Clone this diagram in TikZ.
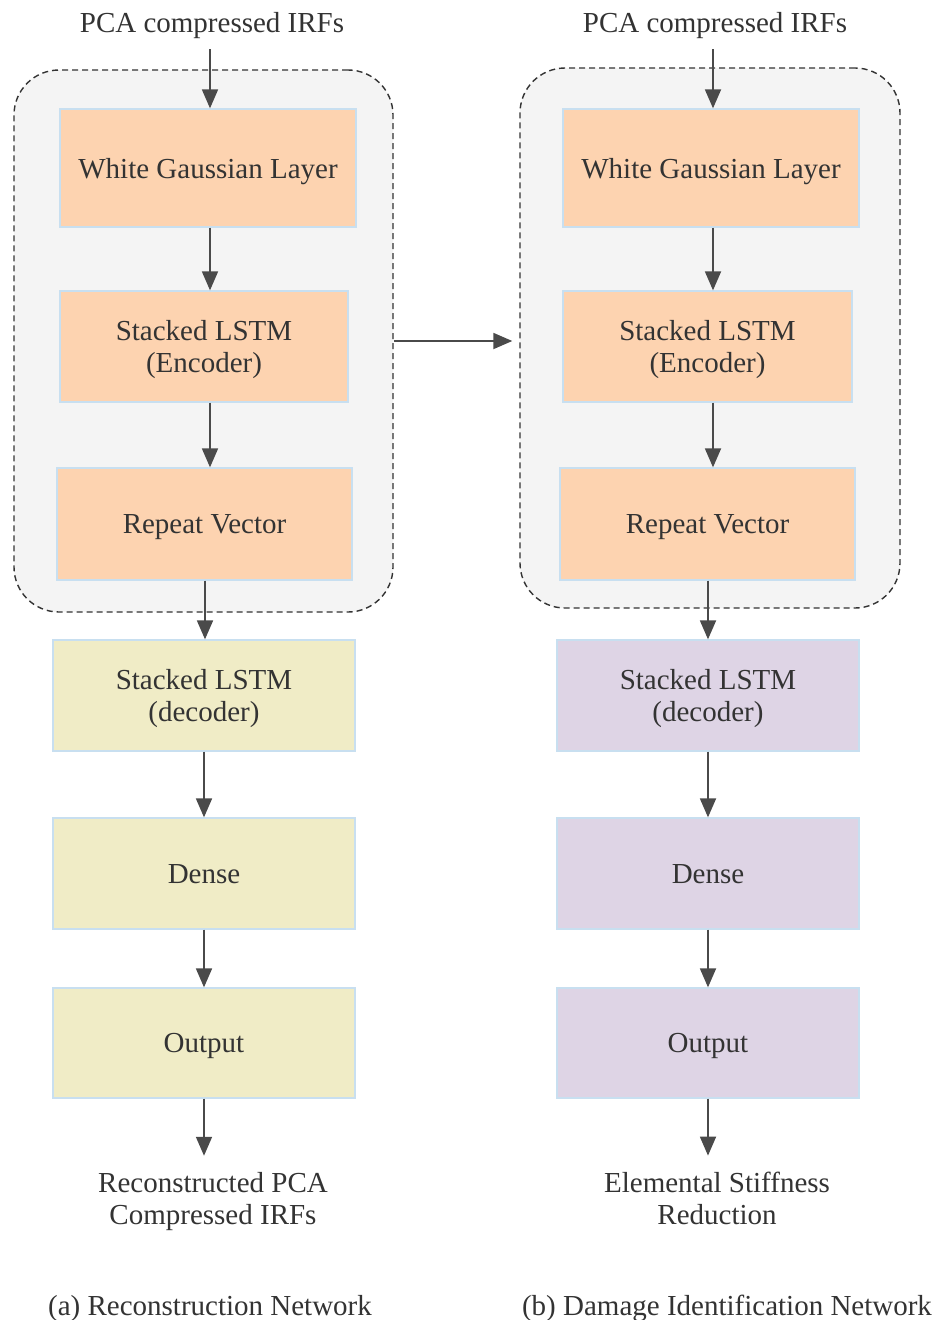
\documentclass[tikz,border=0pt]{standalone}
\usepackage{fontspec}
\setmainfont{Liberation Serif}
\usetikzlibrary{arrows.meta}
\definecolor{peach}{HTML}{FDD3B0}
\definecolor{straw}{HTML}{F0ECC6}
\definecolor{lav}{HTML}{DED4E5}
\definecolor{boxedge}{HTML}{C8DFF0}
\definecolor{cont}{HTML}{F4F4F4}
\definecolor{ink}{HTML}{333333}
\definecolor{arrc}{HTML}{4A4A4A}
\tikzset{
  layer/.style={draw=boxedge, line width=1.3pt, inner sep=0pt, align=center, text=ink,
    text depth=0pt, font=\fontsize{29}{32}\selectfont},
  txt/.style={inner sep=0pt, align=center, text=ink, text depth=0pt,
    font=\fontsize{29}{32}\selectfont},
  container/.style={draw=black!80, fill=cont, dashed, dash pattern=on 6pt off 4pt,
    line width=1.4pt, rounded corners=45pt, inner sep=0pt},
  arr/.style={draw=arrc, line width=1.8pt, -{Triangle[length=19pt,width=16pt]}},
}
\begin{document}
\begin{tikzpicture}[x=1pt,y=-1pt]
\useasboundingbox[fill=white] (0,0) rectangle (933,1320);
% containers
\node[container, minimum width=379pt, minimum height=542pt] (cA) at (203.5,341) {};
\node[container, minimum width=380pt, minimum height=540pt] (cB) at (710,338) {};
% titles
\node[txt] (tA) at (212,22) {PCA compressed IRFs};
\node[txt] (tB) at (715,22) {PCA compressed IRFs};
% left column
\node[layer, fill=peach, minimum width=296pt, minimum height=118pt] (a1) at (208,168) {White Gaussian Layer};
\node[layer, fill=peach, minimum width=288pt, minimum height=111pt] (a2) at (204,346.5) {Stacked LSTM\\(Encoder)};
\node[layer, fill=peach, minimum width=295pt, minimum height=112pt] (a3) at (204.5,524) {Repeat Vector};
\node[layer, fill=straw, minimum width=302pt, minimum height=111pt] (a4) at (204,695.5) {Stacked LSTM\\(decoder)};
\node[layer, fill=straw, minimum width=302pt, minimum height=111pt] (a5) at (204,873.5) {Dense};
\node[layer, fill=straw, minimum width=302pt, minimum height=110pt] (a6) at (204,1043) {Output};
\node[txt] (oA) at (213,1198) {Reconstructed PCA\\Compressed IRFs};
\node[txt] (capA) at (210,1305) {(a) Reconstruction Network};
% right column
\node[layer, fill=peach, minimum width=296pt, minimum height=118pt] (b1) at (711,168) {White Gaussian Layer};
\node[layer, fill=peach, minimum width=289pt, minimum height=111pt] (b2) at (707.5,346.5) {Stacked LSTM\\(Encoder)};
\node[layer, fill=peach, minimum width=295pt, minimum height=112pt] (b3) at (707.5,524) {Repeat Vector};
\node[layer, fill=lav, minimum width=302pt, minimum height=111pt] (b4) at (708,695.5) {Stacked LSTM\\(decoder)};
\node[layer, fill=lav, minimum width=302pt, minimum height=111pt] (b5) at (708,873.5) {Dense};
\node[layer, fill=lav, minimum width=302pt, minimum height=110pt] (b6) at (708,1043) {Output};
\node[txt] (oB) at (717,1198) {Elemental Stiffness\\Reduction};
\node[txt] (capB) at (727,1305) {(b) Damage Identification Network};
% left arrows
\draw[arr, shorten <=17pt] ([xshift=2pt]a1.north |- tA.south) -- ([xshift=2pt]a1.north);
\draw[arr] ([xshift=2pt]a1.south) -- ([xshift=2pt]a1.south |- a2.north);
\draw[arr] ([xshift=6pt]a2.south) -- ([xshift=6pt]a2.south |- a3.north);
\draw[arr] ([xshift=0.5pt]a3.south) -- ([xshift=0.5pt]a3.south |- a4.north);
\draw[arr] (a4.south) -- (a5.north);
\draw[arr] (a5.south) -- (a6.north);
\draw[arr, shorten >=16pt] (a6.south) -- (a6.south |- oA.north);
% right arrows
\draw[arr, shorten <=17pt] ([xshift=2pt]b1.north |- tB.south) -- ([xshift=2pt]b1.north);
\draw[arr] ([xshift=2pt]b1.south) -- ([xshift=2pt]b1.south |- b2.north);
\draw[arr] ([xshift=5.5pt]b2.south) -- ([xshift=5.5pt]b2.south |- b3.north);
\draw[arr] ([xshift=0.5pt]b3.south) -- ([xshift=0.5pt]b3.south |- b4.north);
\draw[arr] (b4.south) -- (b5.north);
\draw[arr] (b5.south) -- (b6.north);
\draw[arr, shorten >=16pt] (b6.south) -- (b6.south |- oB.north);
% between the networks
\draw[arr, shorten >=7pt] (cA.east) -- (cA.east -| cB.west);
\end{tikzpicture}
\end{document}
